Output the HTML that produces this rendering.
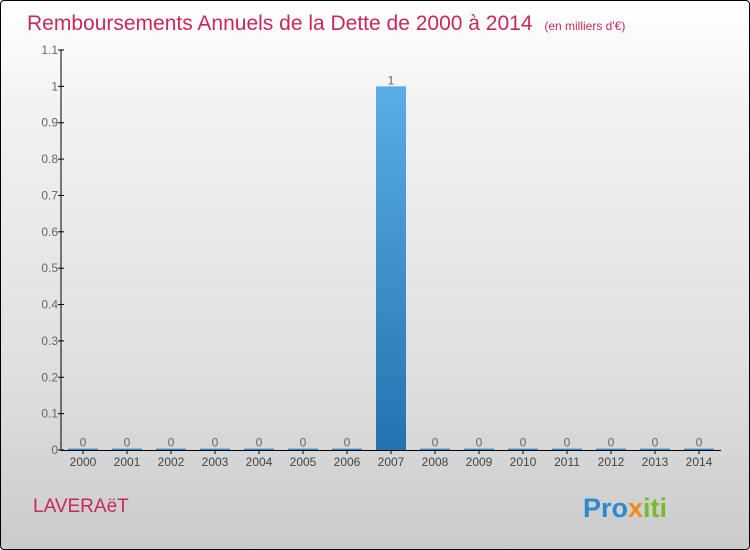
<!DOCTYPE html>
<html><head><meta charset="utf-8"><style>
body{margin:0}
#c{position:relative;width:748px;height:548px;border:1px solid #000;border-radius:4px;overflow:hidden;background:linear-gradient(#fff,#f2f2f2 20%,#dedede 70%,#cbcbcb);font-family:"Liberation Sans","DejaVu Sans",sans-serif}
</style></head><body>
<div id="c">
<svg width="748" height="548">
<defs><linearGradient id="bg" x1="0" y1="0" x2="0" y2="1"><stop offset="0" stop-color="#5aade6"/><stop offset="1" stop-color="#2473b0"/></linearGradient></defs>
<text x="26" y="29" font-size="21" fill="#c8285a" style="font-weight:300">Remboursements Annuels de la Dette de 2000 à 2014 <tspan font-size="12" dx="6">(en milliers d'€)</tspan></text>
<g id="yax"></g>
<g id="bars"></g>
<g id="xax"></g>
<text x="32" y="511" font-size="19" fill="#c8285a">LAVERAëT</text>
<text x="582" y="516" font-size="27" font-weight="bold"><tspan fill="#2a8ad0">Pro</tspan><tspan fill="#f08a1c">x</tspan><tspan fill="#7ab82e">iti</tspan></text>
</svg>
</div>
<script>
const categories=["2000","2001","2002","2003","2004","2005","2006","2007","2008","2009","2010","2011","2012","2013","2014"];
const values=[0,0,0,0,0,0,0,1,0,0,0,0,0,0,0];
const yTicks=[0,0.1,0.2,0.3,0.4,0.5,0.6,0.7,0.8,0.9,1,1.1];
const yMax=1.1;
const NS="http://www.w3.org/2000/svg";
const x0=60,x1=720,yB=449,yT=49;
const y=v=>yB-(v/yMax)*(yB-yT);
const bw=(x1-x0)/categories.length;
const xc=i=>x0+bw*(i+0.5);
function mk(t,a,p){const e=document.createElementNS(NS,t);for(const k in a)e.setAttribute(k,a[k]);p.appendChild(e);return e;}
const ya=document.getElementById('yax'),xa=document.getElementById('xax'),bg=document.getElementById('bars');
let l=mk('line',{x1:x0,x2:x0,y1:yT,y2:yB,stroke:'#000'},ya);


yTicks.forEach(t=>{
 const tk=mk('line',{x1:x0-3,x2:x0+3,y1:y(t),y2:y(t),stroke:'#000'},ya);
 
 
 const tx=mk('text',{x:x0-3,y:y(t)+4,'text-anchor':'end','font-size':12,fill:'#666'},ya);
 tx.textContent=String(t);
 
 
});
let xl=mk('line',{x1:x0,x2:x1,y1:yB+0.5,y2:yB+0.5,stroke:'#000'},xa);


categories.forEach((c,i)=>{
 const tk=mk('line',{x1:xc(i),x2:xc(i),y1:yB,y2:yB+4,stroke:'#000'},xa);
 
 
 const tx=mk('text',{x:xc(i),y:yB+16,'text-anchor':'middle','font-size':12,fill:'#444'},xa);
 tx.textContent=c;
 
 
 const v=values[i],top=y(v),h=Math.max(yB-top,1.5);
 const r=mk('rect',{x:xc(i)-15,y:yB-h,width:30,height:h,fill:'url(#bg)'},bg);
 
 
 const vl=mk('text',{x:xc(i),y:yB-h-2,'text-anchor':'middle','font-size':12,fill:'#666'},bg);
 vl.textContent=String(v);
 
 
});
</script>
</body></html>
